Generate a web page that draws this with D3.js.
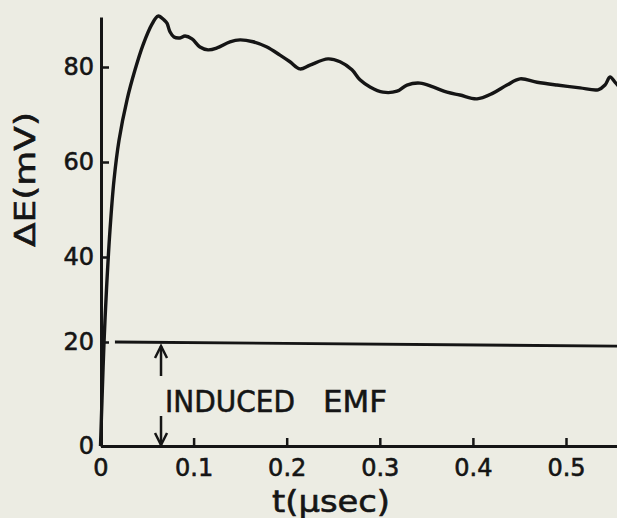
<!DOCTYPE html>
<html><head><meta charset="utf-8">
<script src="https://cdn.jsdelivr.net/npm/d3@7"></script>
<style>html,body{margin:0;padding:0;background:#ecece3;} svg{display:block}</style>
</head><body>
<svg id="c" width="617" height="518"></svg>
<script>
// time in microseconds
const timeUs = [0,0.0016,0.0038,0.0064,0.0102,0.0145,0.0199,0.0285,0.0371,0.0456,0.0553,0.0618,0.0682,0.0714,0.0746,0.0789,0.0854,0.0908,0.0983,0.1068,0.1155,0.1251,0.1391,0.1499,0.1638,0.1788,0.1928,0.2035,0.2143,0.225,0.2444,0.2573,0.2701,0.2787,0.2895,0.3035,0.3185,0.3292,0.3432,0.3571,0.3722,0.3861,0.4044,0.4216,0.4366,0.4506,0.4689,0.4903,0.515,0.5344,0.5419,0.5473,0.5526,0.558];
// Delta E in mV
const deltaE = [0,8.8,20,32.2,45.7,56.2,64.6,73.1,79.4,84.6,89.0,90.7,89.9,89.2,87.4,86.3,86.1,86.5,85.9,84.2,83.6,84.0,85.3,85.7,85.3,84.2,82.5,81.1,79.6,80.4,81.7,81.1,79.4,77.3,75.8,74.7,74.9,76.2,76.6,75.8,74.7,74.1,73.3,74.5,76.2,77.5,76.8,76.2,75.6,75.2,76.2,77.9,76.8,75.6];
const xTickValues = [0,0.1,0.2,0.3,0.4,0.5];
const xTickLabels = ["0","0.1","0.2","0.3","0.4","0.5"];
const yTickValues = [0,20,40,60,80];
const yTickLabels = ["0","20","40","60","80"];
const emfStartT = 0.0155, emfEndT = 0.56;
const emfLevelLeft = 20, emfLevelRight = 19.2;
const emfArrowT = 0.065;
const xTitle = "t(\u03bcsec)";
const yTitle = "\u0394E(mV)";
const emfWords = ["INDUCED","EMF"];

const ink = "#151515";
const svg = d3.select("#c");
const x = d3.scaleLinear().domain([0, 0.555]).range([100.5, 617.2]);
const y = d3.scaleLinear().domain([0,20,40,60,80,90.5]).range([446,342,257,162,67,17]);

// x axis
const gx = svg.append("g").attr("transform","translate(0,446)")
  .call(d3.axisBottom(x).tickValues(xTickValues).tickFormat((d,i)=>xTickLabels[i])
    .tickSizeInner(-8).tickSizeOuter(0).tickPadding(13));
// y axis
const gy = svg.append("g").attr("transform","translate(101,0)")
  .call(d3.axisLeft(y).tickValues(yTickValues).tickFormat((d,i)=>yTickLabels[i])
    .tickSizeInner(-8).tickSizeOuter(0).tickPadding(7));
[gx, gy].forEach(g => {
  g.attr("font-family","'DejaVu Sans', sans-serif").attr("font-size",24);
  g.select(".domain").attr("stroke",ink).attr("stroke-width",3);
  g.selectAll(".tick line").attr("stroke",ink).attr("stroke-width",2.5);
  g.selectAll(".tick text").attr("fill",ink).attr("stroke",ink).attr("stroke-width",0.6);
});

// induced EMF level line
const emfPts = [{t:emfStartT, v:emfLevelLeft},{t:emfEndT, v:emfLevelRight}];
svg.append("path")
  .attr("d", d3.line().x(d=>x(d.t)).y(d=>y(d.v))(emfPts))
  .attr("fill","none").attr("stroke",ink).attr("stroke-width",2.8);

// double arrow
const ax = x(emfArrowT);
const topTip = y(emfLevelLeft) + 4, botTip = y(0) - 1;
const arr = svg.append("g").attr("stroke",ink).attr("stroke-width",2.5).attr("fill","none");
arr.append("line").attr("x1",ax).attr("x2",ax).attr("y1",topTip).attr("y2",topTip+30);
arr.append("line").attr("x1",ax).attr("x2",ax).attr("y1",botTip-29).attr("y2",botTip);
arr.append("path").attr("d",`M${ax-6},${topTip+12}L${ax},${topTip}L${ax+6},${topTip+12}`);
arr.append("path").attr("d",`M${ax-6},${botTip-12}L${ax},${botTip}L${ax+6},${botTip-12}`);

// label
const lab = svg.append("text").attr("y",412).attr("fill",ink).attr("stroke",ink).attr("stroke-width",0.6)
  .attr("font-family","'DejaVu Sans', sans-serif").attr("font-size",31);
lab.append("tspan").attr("x",165).attr("textLength",130).attr("lengthAdjust","spacingAndGlyphs").text(emfWords[0]);
lab.append("tspan").text(" ");
lab.append("tspan").attr("x",323).attr("textLength",64).attr("lengthAdjust","spacingAndGlyphs").text(emfWords[1]);

// data curve
const data = timeUs.map((t,i)=>({t, v:deltaE[i]}));
svg.append("path")
  .attr("d", d3.line().x(d=>x(d.t)).y(d=>y(d.v)).curve(d3.curveCatmullRom.alpha(0.5))(data))
  .attr("fill","none").attr("stroke",ink).attr("stroke-width",3.4).attr("stroke-linejoin","round");

// axis titles
svg.append("text").attr("x",272).attr("y",512).attr("fill",ink).attr("stroke",ink).attr("stroke-width",0.6)
  .attr("font-family","'DejaVu Sans', sans-serif").attr("font-size",30)
  .attr("textLength",118).attr("lengthAdjust","spacingAndGlyphs").text(xTitle);
svg.append("text").attr("transform","translate(35,247) rotate(-90)").attr("fill",ink).attr("stroke",ink).attr("stroke-width",0.6)
  .attr("font-family","'DejaVu Sans', sans-serif").attr("font-size",28)
  .attr("textLength",135).attr("lengthAdjust","spacingAndGlyphs").text(yTitle);
</script>
</body></html>
